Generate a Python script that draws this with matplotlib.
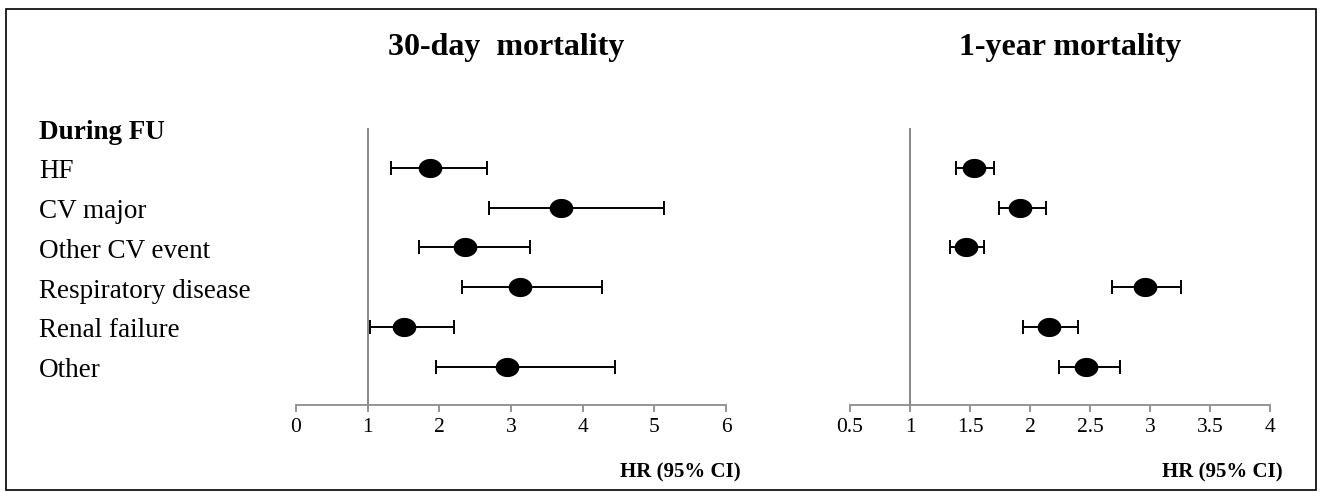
import matplotlib
matplotlib.use("Agg")
import matplotlib.pyplot as plt
import numpy as np
from matplotlib.path import Path
from matplotlib.transforms import blended_transform_factory
from matplotlib.patches import Rectangle

categories = ["HF", "CV major", "Other CV event", "Respiratory disease", "Renal failure", "Other"]
group_label = "During FU"

hr30 = [1.87, 3.70, 2.36, 3.13, 1.51, 2.94]
lo30 = [1.32, 2.69, 1.72, 2.32, 1.03, 1.95]
hi30 = [2.66, 5.13, 3.27, 4.27, 2.21, 4.45]

hr1y = [1.53, 1.92, 1.47, 2.96, 2.16, 2.47]
lo1y = [1.38, 1.74, 1.33, 2.68, 1.94, 2.24]
hi1y = [1.70, 2.13, 1.62, 3.26, 2.40, 2.75]

ticks30 = [0, 1, 2, 3, 4, 5, 6]
ticks1y = [0.5, 1, 1.5, 2, 2.5, 3, 3.5, 4]
tick_labels1y = ["0.5", "1", "1.5", "2", "2.5", "3", "3.5", "4"]

titles = ["30-day  mortality", "1-year mortality"]
xlabel = "HR (95% CI)"

plt.rcParams['font.family'] = ['Liberation Serif', 'DejaVu Serif']

W, H = 1321, 492
fig = plt.figure(figsize=(W / 100, H / 100), dpi=100)

# outer frame
fig.patches.append(Rectangle((6 / W, 2 / H), 1310 / W, 481 / H, transform=fig.transFigure,
                             fill=False, edgecolor='black', linewidth=1.2))

bottom = (H - 405) / H
height = (405 - 128) / H
ax1 = fig.add_axes([296 / W, bottom, 430 / W, height])
ax2 = fig.add_axes([850 / W, bottom, 420 / W, height])

ell = np.linspace(0, 2 * np.pi, 60)
ell_path = Path(np.column_stack([1.25 * np.cos(ell), np.sin(ell)]))

ypos = np.arange(1, len(categories) + 1)

def panel(ax, hr, lo, hi, xlim, ticks, tlabels, title, title_x):
    hr = np.array(hr); lo = np.array(lo); hi = np.array(hi)
    ax.errorbar(hr, ypos, xerr=[hr - lo, hi - hr], fmt='none', ecolor='black',
                elinewidth=1.4, capsize=5, capthick=1.4, zorder=2)
    ax.plot(hr, ypos, linestyle='none', marker=ell_path, markersize=16,
            color='black', zorder=3)
    ax.axvline(1, color='#8c8c8c', linewidth=1.5, zorder=1)
    ax.set_xlim(*xlim)
    ax.set_ylim(6.96, 0)
    for s in ['top', 'right', 'left']:
        ax.spines[s].set_visible(False)
    ax.spines['bottom'].set_color('#8c8c8c')
    ax.spines['bottom'].set_linewidth(1.3)
    ax.set_yticks([])
    ax.set_xticks(ticks)
    ax.set_xticklabels(tlabels, fontsize=15.5)
    ax.tick_params(axis='x', direction='out', length=5, width=1.3, color='#8c8c8c',
                   pad=4)
    ax.patch.set_visible(False)
    fig.text(title_x / W, (H - 48) / H, title, ha='center', va='center',
             fontsize=23, fontweight='bold')

panel(ax1, hr30, lo30, hi30, (0, 6), ticks30, [str(t) for t in ticks30],
      titles[0], 506)
panel(ax2, hr1y, lo1y, hi1y, (0.5, 4), ticks1y, tick_labels1y, titles[1], 1070)

fig.text(741 / W, (H - 472) / H, xlabel, ha='right', va='center', fontsize=15,
         fontweight='bold')
fig.text(1283 / W, (H - 472) / H, xlabel, ha='right', va='center', fontsize=15,
         fontweight='bold')

tr = blended_transform_factory(fig.transFigure, ax1.transData)
ax1.text(39 / W, 0.12, group_label, transform=tr, ha='left', va='center',
         fontsize=19.5, fontweight='bold', clip_on=False)
for y, c in zip(ypos, categories):
    ax1.text(39 / W, y + 0.1, c, transform=tr, ha='left', va='center', fontsize=19.5,
             clip_on=False)

fig.savefig("out.png", dpi=100)
